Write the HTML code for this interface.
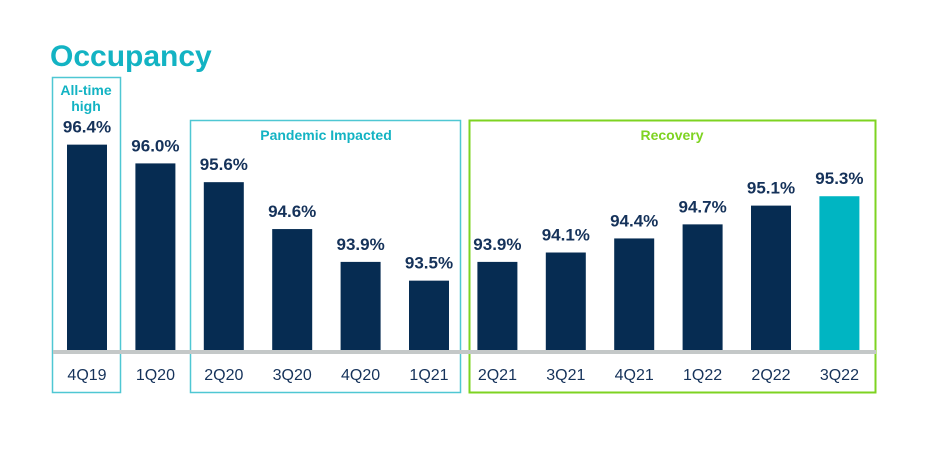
<!DOCTYPE html>
<html><head><meta charset="utf-8"><style>
body{margin:0;background:#fff;width:929px;height:466px;overflow:hidden;font-family:"Liberation Sans",sans-serif}
</style></head><body>
<svg width="929" height="466" id="chart" font-family="Liberation Sans, sans-serif">
<text x="50" y="66" font-size="30" font-weight="bold" fill="#13b3c3">Occupancy</text>
<rect x="52.5" y="77.5" width="68" height="315" fill="none" stroke="#4fc7d3" stroke-width="1.5"/>
<text x="86" y="95" font-size="14" font-weight="bold" fill="#13b3c3" text-anchor="middle">All-time</text>
<text x="86" y="111" font-size="14" font-weight="bold" fill="#13b3c3" text-anchor="middle">high</text>
<rect x="190.5" y="120.5" width="270" height="272" fill="none" stroke="#4fc7d3" stroke-width="1.5"/>
<text x="326" y="140" font-size="14" font-weight="bold" fill="#13b3c3" text-anchor="middle">Pandemic Impacted</text>
<rect x="469.5" y="120.5" width="406" height="272" fill="none" stroke="#7ed321" stroke-width="2"/>
<text x="672" y="140" font-size="14" font-weight="bold" fill="#7ed321" text-anchor="middle">Recovery</text>
<rect x="53" y="350" width="823" height="4" fill="#c4c8c8"/>
<g id="bars"></g>
</svg>
<script>
const categories=["4Q19","1Q20","2Q20","3Q20","4Q20","1Q21","2Q21","3Q21","4Q21","1Q22","2Q22","3Q22"];
const values=[96.4,96.0,95.6,94.6,93.9,93.5,93.9,94.1,94.4,94.7,95.1,95.3];
const labels=["96.4%","96.0%","95.6%","94.6%","93.9%","93.5%","93.9%","94.1%","94.4%","94.7%","95.1%","95.3%"];
const NS="http://www.w3.org/2000/svg";
const yScale=v=>351-(v-92.0)*46.9;
const xScale=i=>87+i*68.4;
const g=document.getElementById('bars');
categories.forEach((c,i)=>{
  const cx=xScale(i), y=yScale(values[i]);
  const r=document.createElementNS(NS,'rect');
  r.setAttribute('x',cx-20);r.setAttribute('y',y);r.setAttribute('width',40);r.setAttribute('height',350-y);
  r.setAttribute('fill',i===categories.length-1?'#00b5c2':'#062c52');
  
  
  g.appendChild(r);
  const t=document.createElementNS(NS,'text');
  t.setAttribute('x',cx);t.setAttribute('y',y-12);t.setAttribute('text-anchor','middle');
  t.setAttribute('font-size','17');t.setAttribute('font-weight','bold');t.setAttribute('fill','#15325a');
  t.textContent=labels[i];
  
  
  g.appendChild(t);
  const a=document.createElementNS(NS,'text');
  a.setAttribute('x',cx);a.setAttribute('y',380);a.setAttribute('text-anchor','middle');
  a.setAttribute('font-size','16');a.setAttribute('fill','#15325a');
  a.textContent=c;
  
  
  g.appendChild(a);
});
</script>
</body></html>
